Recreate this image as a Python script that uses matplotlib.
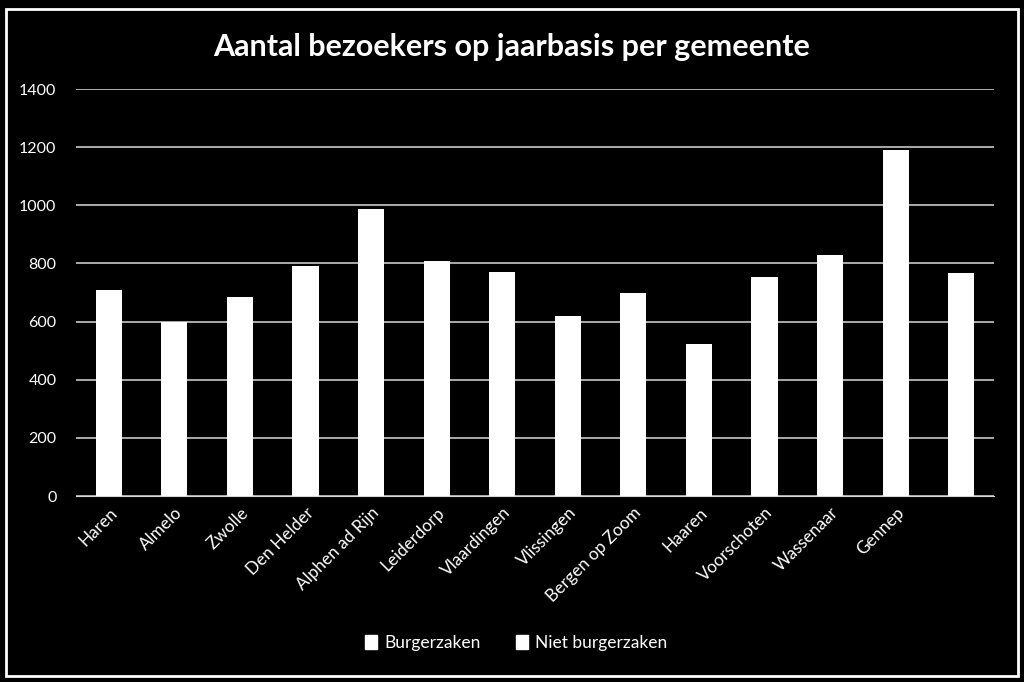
"""Aantal bezoekers op jaarbasis per gemeente: witte staven op zwarte achtergrond."""

import matplotlib

matplotlib.use("Agg")
import matplotlib.pyplot as plt
from matplotlib.patches import Patch, Rectangle

gemeenten = [
    "Haren", "Almelo", "Zwolle", "Den Helder", "Alphen ad Rijn", "Leiderdorp",
    "Vlaardingen", "Vlissingen", "Bergen op Zoom", "Haaren", "Voorschoten",
    "Wassenaar", "Gennep", "",
]
bezoekers = [710, 600, 686, 791, 988, 807, 769, 618, 698, 524, 753, 830, 1190, 766]
legenda = ["Burgerzaken", "Niet burgerzaken"]
y_ticks = [0, 200, 400, 600, 800, 1000, 1200, 1400]

plt.rcParams["font.family"] = ["Lato", "DejaVu Sans"]

fig = plt.figure(figsize=(10.24, 6.82), dpi=100, facecolor="black")
ax = fig.add_axes([0.0742, 0.2727, 0.8965, 0.5968], facecolor="black")

# witte kader rond de grafiek
fig.patches.append(
    Rectangle((0.006, 0.009), 0.988, 0.978, transform=fig.transFigure,
              fill=False, edgecolor="white", linewidth=2)
)

x = list(range(len(gemeenten)))
ax.bar(x, bezoekers, width=0.4, color="white", zorder=3)

ax.set_xlim(-0.5, len(gemeenten) - 0.5)
ax.set_ylim(0, 1400)
ax.set_yticks(y_ticks)
ax.set_yticklabels([str(v) for v in y_ticks], color="white", fontsize=11.5)
ax.yaxis.grid(True, color="#d9d9d9", linewidth=1.1, zorder=0)
ax.tick_params(axis="y", length=0, pad=14)
ax.tick_params(axis="x", length=0, pad=6)

ax.set_xticks(x)
ax.set_xticklabels(gemeenten, rotation=45, ha="right", rotation_mode="anchor",
                   color="white", fontsize=12.3)

for side in ("top", "right", "left"):
    ax.spines[side].set_visible(False)
ax.spines["bottom"].set_color("#d9d9d9")

fig.text(0.5, 0.931, "Aantal bezoekers op jaarbasis per gemeente", ha="center",
         va="center", color="white", fontsize=22, fontweight="bold")

handles = [Patch(facecolor="white", edgecolor="white") for _ in legenda]
fig.legend(handles, legenda, loc="center", bbox_to_anchor=(0.504, 0.057), ncol=2,
           frameon=False, labelcolor="white", fontsize=12.5, handlelength=0.7,
           handleheight=0.9, handletextpad=0.4, columnspacing=2.0)

fig.savefig("out.png", dpi=100, facecolor="black")
